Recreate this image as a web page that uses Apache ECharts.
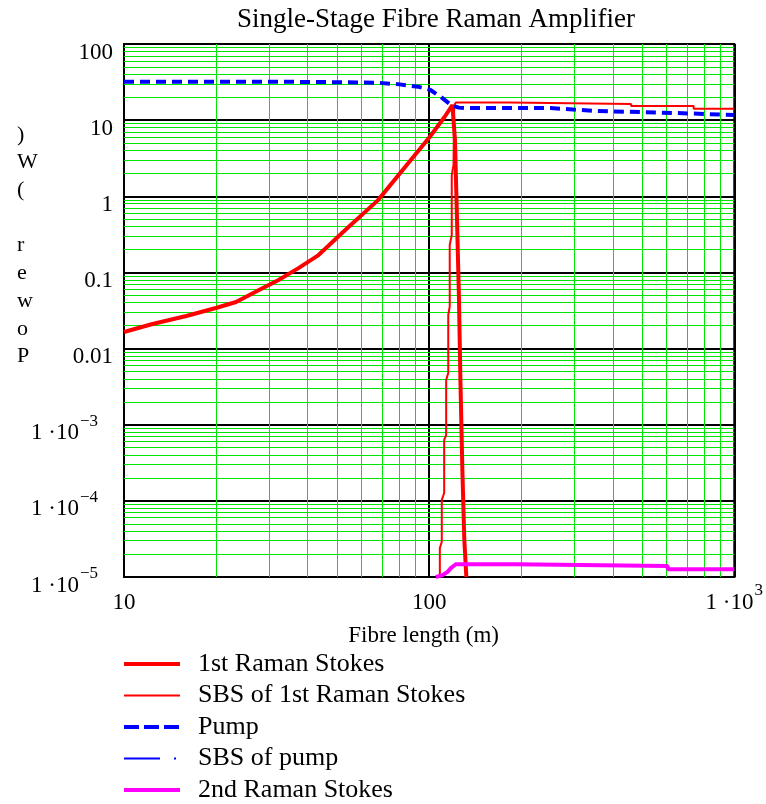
<!DOCTYPE html>
<html>
<head>
<meta charset="utf-8">
<script src="https://cdn.jsdelivr.net/npm/echarts@6/dist/echarts.min.js"></script>
<style>
html,body{margin:0;padding:0;background:#fff;}
#chart{width:766px;height:804px;}
</style>
</head>
<body>
<div id="chart"></div>
<script>
var FONT = 'Liberation Serif';

// fibre length (m) / power (W)
var ramanX = [10, 12.4, 16.0, 20.0, 23.3, 27.7, 32.1, 37.3, 43.4, 53.1, 68.0, 87.1, 100.4, 112.3, 117.4, 119.2, 121.5, 123.3, 125.2, 126.6, 128.5, 130.4, 132.4];
var ramanY = [0.0165, 0.021, 0.0268, 0.0341, 0.0409, 0.0588, 0.0796, 0.114, 0.169, 0.36, 0.89, 3.0, 6.0, 11.0, 14.4, 15.8, 5.5, 0.57, 0.0475, 0.0039, 2.5e-4, 3.06e-5, 1e-5];

var sbsRamanX = [108.4, 108.4, 110.0, 110.0, 112.0, 112.0, 113.7, 113.7, 115.5, 115.5, 116.8, 116.8, 118.6, 118.6, 120.2, 120.8, 122.5, 183, 183, 459, 459, 736, 736, 1000];
var sbsRamanY = [1e-5, 2.4e-5, 2.9e-5, 1.03e-4, 1.27e-4, 6.3e-4, 7.3e-4, 3.87e-3, 4.78e-3, 0.0276, 0.0355, 0.229, 0.31, 1.90, 2.58, 15.8, 17.1, 17.1, 16.3, 16.3, 15.3, 15.3, 14.1, 14.1];

var pumpX = [10, 30, 50, 68, 80, 92, 101, 109, 118, 125, 131, 250, 353, 643, 1000];
var pumpY = [32, 32, 31.5, 31, 29.5, 27.5, 24.9, 20.3, 15.8, 14.6, 14.4, 14.4, 13.2, 12.4, 11.7];

// SBS of pump stays below the plotted range
var sbsPumpX = [];
var sbsPumpY = [];

var stokes2X = [105.2, 110.6, 114.9, 117.8, 122.3, 191, 191, 605, 605, 1000];
var stokes2Y = [1e-5, 1.06e-5, 1.17e-5, 1.31e-5, 1.47e-5, 1.47e-5, 1.39e-5, 1.39e-5, 1.26e-5, 1.26e-5];

// tick labels, by decade (x: 10^1..10^3, y: 10^-5..10^2)
var xTickMain = ['10', '100', '1 \u00b710'];
var xTickSup = ['', '', '3'];
var yTickMain = ['1 \u00b710', '1 \u00b710', '1 \u00b710', '0.01', '0.1', '1', '10', '100'];
var yTickSup = ['\u22125', '\u22124', '\u22123', '', '', '', '', ''];
var minorSteps = [2, 3, 4, 5, 6, 7, 8, 9];

function pairs(xs, ys) {
    var out = [];
    for (var i = 0; i < xs.length; i++) out.push([xs[i], ys[i]]);
    return out;
}

function tickLabel(value, mains, sups, firstExp) {
    var i = Math.round(Math.log(value) / Math.LN10) - firstExp;
    var s = sups[i] ? '{s|' + sups[i] + '}' : '';
    return '{m|' + mains[i] + '}' + s;
}

// minor grid lines at 2..9 of every decade
var minorLines = [];
for (var d = 1; d < 3; d++) {
    minorSteps.forEach(function (m) { minorLines.push({ xAxis: m * Math.pow(10, d) }); });
}
for (var e = -5; e < 2; e++) {
    minorSteps.forEach(function (m) { minorLines.push({ yAxis: m * Math.pow(10, e) }); });
}

var labelRich = function (supPadRight) {
    return {
        m: { fontFamily: FONT, fontSize: 23, lineHeight: 24, padding: [9, 0, 0, 0], verticalAlign: 'top', color: '#000' },
        s: { fontFamily: FONT, fontSize: 17, lineHeight: 17, padding: [0, supPadRight, 0, 1], verticalAlign: 'top', color: '#000' }
    };
};

var myChart = echarts.init(document.getElementById('chart'));
var option = {
    animation: false,
    backgroundColor: '#fff',
    title: {
        text: 'Single-Stage Fibre Raman Amplifier',
        left: 436,
        textAlign: 'center',
        top: 5,
        padding: 0,
        textStyle: { fontFamily: FONT, fontSize: 27, fontWeight: 'normal', color: '#000', lineHeight: 30 }
    },
    legend: {
        orient: 'vertical',
        left: 122,
        top: 651,
        padding: 0,
        itemWidth: 56,
        itemHeight: 14,
        itemGap: 5.5,
        selectedMode: false,
        itemStyle: { opacity: 0 },
        textStyle: { fontFamily: FONT, fontSize: 26, lineHeight: 26, color: '#000', padding: [0, 0, 0, 13] },
        data: [
            { name: '1st Raman Stokes', lineStyle: { width: 4 } },
            { name: 'SBS of 1st Raman Stokes', lineStyle: { width: 2 } },
            { name: 'Pump', lineStyle: { width: 4, type: [15, 5] } },
            { name: 'SBS of pump', lineStyle: { width: 2 } },
            { name: '2nd Raman Stokes', lineStyle: { width: 4 } }
        ]
    },
    grid: {
        left: 124, right: 27, top: 44, bottom: 227,
        show: true, borderColor: '#000', borderWidth: 2
    },
    graphic: [{
        type: 'text',
        left: 17,
        top: 121,
        style: {
            text: ')\nW\n(\n\nr\ne\nw\no\nP',
            fontFamily: FONT, fontSize: 22, lineHeight: 27.7, fill: '#000'
        }
    }],
    xAxis: {
        type: 'log',
        logBase: 10,
        min: 10,
        max: 1000,
        name: 'Fibre length (m)',
        nameLocation: 'middle',
        nameGap: 47,
        nameTextStyle: { fontFamily: FONT, fontSize: 23, color: '#000', padding: [0, 11, 0, 0] },
        axisLine: { show: true, lineStyle: { color: '#000', width: 2 } },
        axisTick: { show: false },
        splitLine: { show: true, lineStyle: { color: '#000', width: 2 } },
        axisLabel: {
            margin: 5,
            formatter: function (v) { return tickLabel(v, xTickMain, xTickSup, 1); },
            rich: labelRich(0)
        }
    },
    yAxis: {
        type: 'log',
        logBase: 10,
        min: 1e-5,
        max: 100,
        axisLine: { show: true, lineStyle: { color: '#000', width: 2 } },
        axisTick: { show: false },
        splitLine: { show: true, lineStyle: { color: '#000', width: 2 } },
        axisLabel: {
            margin: 11,
            formatter: function (v) { return tickLabel(v, yTickMain, yTickSup, -5); },
            rich: labelRich(15)
        }
    },
    series: [
        {
            name: 'grid',
            type: 'line',
            data: [],
            silent: true,
            markLine: {
                z: 1,
                silent: true,
                precision: 12,
                symbol: 'none',
                label: { show: false },
                lineStyle: { color: '#00e600', width: 1, type: 'solid' },
                emphasis: { disabled: true },
                data: minorLines
            }
        },
        {
            name: '1st Raman Stokes',
            type: 'line',
            data: pairs(ramanX, ramanY),
            symbol: 'none',
            lineStyle: { color: '#ff0000', width: 4 },
            itemStyle: { color: '#ff0000' }
        },
        {
            name: 'SBS of 1st Raman Stokes',
            type: 'line',
            data: pairs(sbsRamanX, sbsRamanY),
            symbol: 'none',
            lineStyle: { color: '#ff0000', width: 2 },
            itemStyle: { color: '#ff0000' }
        },
        {
            name: 'Pump',
            type: 'line',
            data: pairs(pumpX, pumpY),
            symbol: 'none',
            lineStyle: { color: '#0000ff', width: 4, type: [10, 6] },
            itemStyle: { color: '#0000ff' }
        },
        {
            name: 'SBS of pump',
            type: 'line',
            data: pairs(sbsPumpX, sbsPumpY),
            symbol: 'none',
            lineStyle: { color: '#0000ff', width: 2, type: [36, 14, 2, 14] },
            itemStyle: { color: '#0000ff' }
        },
        {
            name: '2nd Raman Stokes',
            type: 'line',
            data: pairs(stokes2X, stokes2Y),
            symbol: 'none',
            lineStyle: { color: '#ff00ff', width: 4 },
            itemStyle: { color: '#ff00ff' }
        }
    ]
};
myChart.setOption(option);
</script>
</body>
</html>
